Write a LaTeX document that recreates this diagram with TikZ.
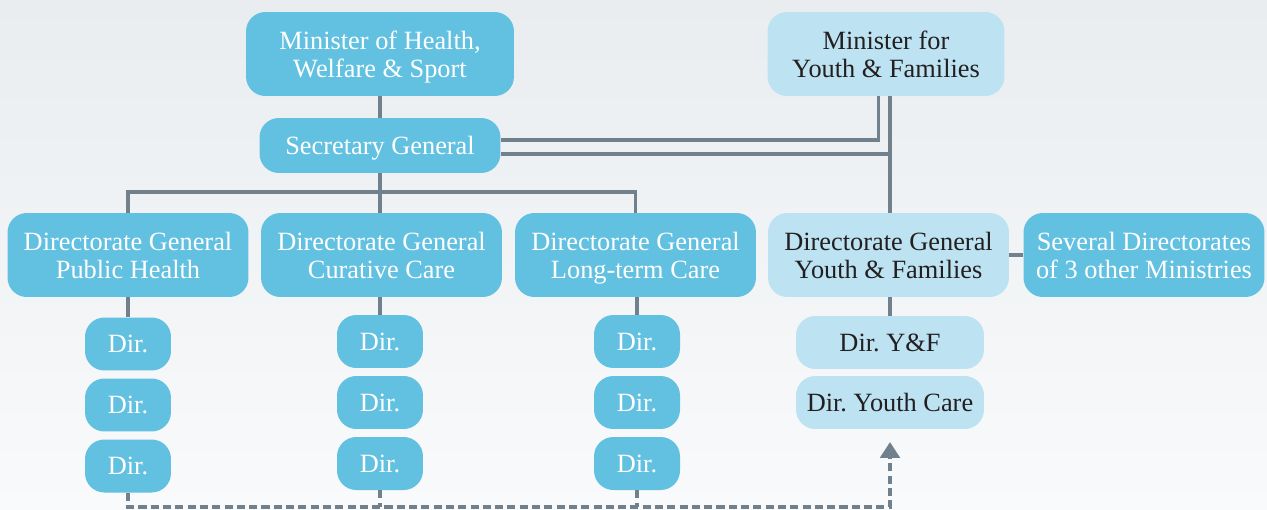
\documentclass[tikz,border=0pt]{standalone}
\usepackage{fontspec}
\setmainfont{Liberation Serif}
\newfontfamily\orgfont{Liberation Serif}
\usetikzlibrary{arrows.meta}
\frenchspacing

\begin{document}
\begin{tikzpicture}[x=0.02cm,y=-0.02cm,
    box/.style={rounded corners=11pt,align=center,inner sep=0pt,
                font=\orgfont\fontsize{15}{16}\selectfont,
                text depth=0pt},
    darkbox/.style={box,fill=kBlue,text=white},
    lightbox/.style={box,fill=kPale,text=kInk},
    dgbox/.style={minimum width=4.82cm,minimum height=1.68cm},
    dirbox/.style={darkbox,minimum width=1.72cm,minimum height=1.06cm},
    link/.style={draw=kSlate,line width=2.1pt},
    dashlink/.style={link,dash pattern=on 4.6pt off 2.4pt}]
  \definecolor{kBlue}{RGB}{98,193,225}
  \definecolor{kPale}{RGB}{189,227,242}
  \definecolor{kInk}{RGB}{35,31,32}
  \definecolor{kSlate}{RGB}{112,129,141}

  % backdrop
  \fill[top color={rgb,255:red,233;green,237;blue,240},
        bottom color={rgb,255:red,249;green,250;blue,251}]
    (0,0) rectangle (1267,510);

  % levels of the horizontal runs
  \coordinate (hi)    at (0,140);
  \coordinate (lo)    at (0,154);
  \coordinate (bus)   at (0,192);
  \coordinate (floor) at (0,507);
  \coordinate (tip)   at (890,442);

  % ministers and secretary general
  \node[darkbox,minimum width=5.36cm,minimum height=1.68cm] (mhws) at (380,54)
    {Minister of Health,\\Welfare \& Sport};
  \node[lightbox,minimum width=4.74cm,minimum height=1.68cm] (myf) at (886,54)
    {Minister for\\Youth \& Families};
  \node[darkbox,minimum width=4.82cm,minimum height=1.1cm] (sg) at (380,145.5)
    {Secretary General};

  % directorates general
  \node[darkbox,dgbox]  (dgph) at (128,255)    {Directorate General\\Public Health};
  \node[darkbox,dgbox]  (dgcc) at (381.5,255)  {Directorate General\\Curative Care};
  \node[darkbox,dgbox]  (dglt) at (635.5,255)  {Directorate General\\Long-term Care};
  \node[lightbox,dgbox] (dgyf) at (888.5,255)  {Directorate General\\Youth \& Families};
  \node[darkbox,dgbox]  (sev)  at (1144,255)   {Several Directorates\\of 3 other Ministries};

  % directorates
  \foreach \c/\x/\y in {a/128/344, b/380/341.5, c/637/341.5}
    \foreach \i in {0,1,2}
      \node[dirbox] (d\c\i) at (\x,\y+61*\i) {Dir.};
  \node[lightbox,minimum width=3.76cm,minimum height=1.06cm] (dyf) at (890,342.5)
    {Dir. Y\&F};
  \node[lightbox,minimum width=3.76cm,minimum height=1.06cm] (dyc) at (890,402.5)
    {Dir. Youth Care};

  % solid lines
  \draw[link] (mhws.south) -- (sg.north);
  \draw[link] (sg.south) -- (sg.south |- bus);
  \draw[link] (dgph.north) |- (dglt.north |- bus) -- (dglt.north);
  \draw[link] (dgcc.north -| sg.south) -- (sg.south |- bus);
  \draw[link] (sg.east |- hi) -| ([xshift=-4.2pt]myf.south);
  \draw[link] (sg.east |- lo) -| (dgyf.north -| dyf.north);
  \draw[link] (myf.south -| dyf.north) -- (dyf.north |- lo);
  \draw[link] (dgyf.south -| dyf.north) -- (dyf.north);
  \draw[link] (dgyf.east) -- (sev.west);
  \foreach \c/\g in {a/dgph, b/dgcc, c/dglt}
    \draw[link] (d\c0.north |- \g.south) -- (d\c0.north);

  % dashed route to youth care
  \draw[dashlink,-{Triangle[width=11pt,length=9pt]}]
    (da2.south) |- (floor -| tip) -- (tip);
  \draw[dashlink] (db2.south) -- (db2.south |- floor);
  \draw[dashlink] (dc2.south) -- (dc2.south |- floor);
\end{tikzpicture}
\end{document}
